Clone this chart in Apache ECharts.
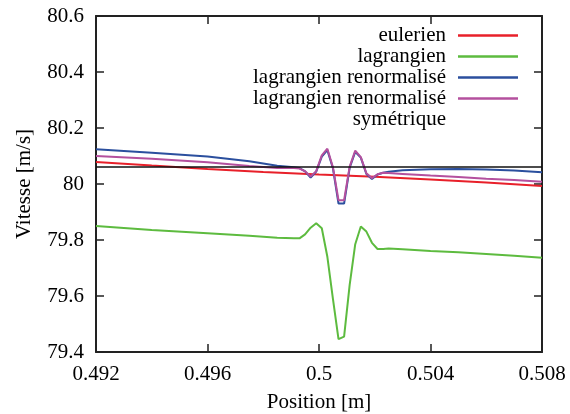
<!DOCTYPE html>
<html lang="fr">
<head>
    <meta charset="UTF-8">
    <title>Vitesse</title>
    <script src="https://cdn.jsdelivr.net/npm/echarts@6/dist/echarts.min.js"></script>
    <style>
        body { margin: 0; background: #fff; }
        #main { width: 570px; height: 414px; }
    </style>
</head>
<body>
<div id="main"></div>
<script>
    // ---- données ----
    var xTicks = [0.492, 0.496, 0.5, 0.504, 0.508];
    var yTicks = [79.4, 79.6, 79.8, 80, 80.2, 80.4, 80.6];

    var posEuler = [0.492, 0.494, 0.496, 0.498, 0.500, 0.502, 0.504, 0.506, 0.508];
    var velEuler = [80.079, 80.066, 80.054, 80.043, 80.034, 80.026, 80.016, 80.005, 79.993];

    // positions des points pour les séries lagrangiennes
    var posLag = [0.492, 0.494, 0.496, 0.4975, 0.4985, 0.4991, 0.4993, 0.4995, 0.4997, 0.4999,
        0.5001, 0.5003, 0.5005, 0.5007, 0.5009, 0.5011, 0.5013, 0.5015, 0.5017, 0.5019,
        0.5021, 0.5023, 0.5025, 0.503, 0.504, 0.505, 0.506, 0.507, 0.508];
    var velLag = [79.850, 79.836, 79.824, 79.815, 79.808, 79.806, 79.806, 79.820, 79.844, 79.860,
        79.842, 79.740, 79.590, 79.446, 79.455, 79.640, 79.785, 79.848, 79.830, 79.790,
        79.768, 79.768, 79.770, 79.767, 79.761, 79.756, 79.750, 79.744, 79.737];
    var velRenorm = [80.124, 80.112, 80.098, 80.081, 80.065, 80.060, 80.057, 80.045, 80.023, 80.044,
        80.098, 80.121, 80.056, 79.930, 79.930, 80.058, 80.115, 80.094, 80.036, 80.018,
        80.034, 80.040, 80.044, 80.049, 80.053, 80.054, 80.052, 80.048, 80.042];
    var velRenormSym = [80.100, 80.090, 80.078, 80.064, 80.057, 80.057, 80.055, 80.046, 80.027, 80.046,
        80.102, 80.126, 80.060, 79.942, 79.942, 80.062, 80.119, 80.096, 80.038, 80.021,
        80.035, 80.040, 80.039, 80.036, 80.030, 80.025, 80.019, 80.014, 80.008];

    // ligne de référence (noire)
    var posRef = [0.492, 0.508];
    var velRef = [80.061, 80.061];

    var names = ['eulerien', 'lagrangien', 'lagrangien renormalisé', 'lagrangien renormalisé symétrique'];
    var colors = ['#e8202a', '#5dbb3f', '#2b4f9e', '#b4509e'];

    function zip(xs, ys) {
        var out = [];
        for (var i = 0; i < xs.length; i++) out.push([xs[i], ys[i]]);
        return out;
    }

    var font = '"Liberation Serif", "Times New Roman", serif';
    var fs = 21;
    var borderColor = '#222';

    function xAxis(pos, showLabel) {
        return {
            type: 'value', position: pos,
            min: xTicks[0], max: xTicks[xTicks.length - 1], interval: 0.004,
            name: showLabel ? 'Position [m]' : '',
            nameLocation: 'middle', nameGap: 40,
            nameTextStyle: {fontFamily: font, fontSize: fs, color: '#000'},
            axisLine: {show: true, onZero: false, lineStyle: {color: borderColor, width: 2}},
            axisTick: {show: true, inside: true, length: 8, lineStyle: {color: borderColor, width: 1.5}},
            axisLabel: {
                show: showLabel, margin: 12, fontFamily: font, fontSize: fs, color: '#000',
                formatter: function (v) { return String(+v.toFixed(3)); }
            },
            splitLine: {show: false}
        };
    }

    function yAxis(pos, showLabel) {
        return {
            type: 'value', position: pos,
            min: yTicks[0], max: yTicks[yTicks.length - 1], interval: 0.2,
            name: showLabel ? 'Vitesse [m/s]' : '',
            nameLocation: 'middle', nameGap: 61,
            nameTextStyle: {fontFamily: font, fontSize: fs, color: '#000'},
            axisLine: {show: true, onZero: false, lineStyle: {color: borderColor, width: 2}},
            axisTick: {show: true, inside: true, length: 8, lineStyle: {color: borderColor, width: 1.5}},
            axisLabel: {
                show: showLabel, margin: 12, fontFamily: font, fontSize: fs, color: '#000',
                formatter: function (v) { return String(+v.toFixed(1)); }
            },
            splitLine: {show: false}
        };
    }

    // une légende par entrée pour aligner les textes à droite
    var rowCenters = [36, 57, 78, 99];
    var legends = names.map(function (n, i) {
        return {
            data: [n], right: 52, top: rowCenters[i] - 11, align: 'right',
            icon: 'rect', itemWidth: 60, itemHeight: 2.5, padding: 0,
            textStyle: {fontFamily: font, fontSize: fs, color: '#000', padding: [0, 7, 0, 0]},
            formatter: function (name) {
                return name === names[3] ? 'lagrangien renormalisé' : name;
            },
            selectedMode: false
        };
    });

    var series = [
        zip(posEuler, velEuler), zip(posLag, velLag),
        zip(posLag, velRenorm), zip(posLag, velRenormSym)
    ].map(function (d, i) {
        return {
            name: names[i], type: 'line', data: d,
            symbol: 'none', showSymbol: false, smooth: false,
            lineStyle: {color: colors[i], width: 2},
            itemStyle: {color: colors[i]},
            z: 2 + i * 0.1,
            animation: false
        };
    });
    series.push({
        name: 'ref', type: 'line', data: zip(posRef, velRef),
        symbol: 'none', lineStyle: {color: '#111', width: 1.5}, z: 3, animation: false
    });

    var myChart = echarts.init(document.getElementById('main'));
    myChart.setOption({
        backgroundColor: '#fff',
        animation: false,
        grid: {left: 96, right: 28, top: 16, bottom: 62, containLabel: false, outerBoundsMode: 'none'},
        xAxis: [xAxis('bottom', true), xAxis('top', false)],
        yAxis: [yAxis('left', true), yAxis('right', false)],
        legend: legends,
        graphic: [{
            type: 'text', right: 124, top: 109,
            style: {text: 'symétrique', font: fs + 'px "Liberation Serif", serif', fill: '#000'}
        }],
        series: series
    });
</script>
</body>
</html>
